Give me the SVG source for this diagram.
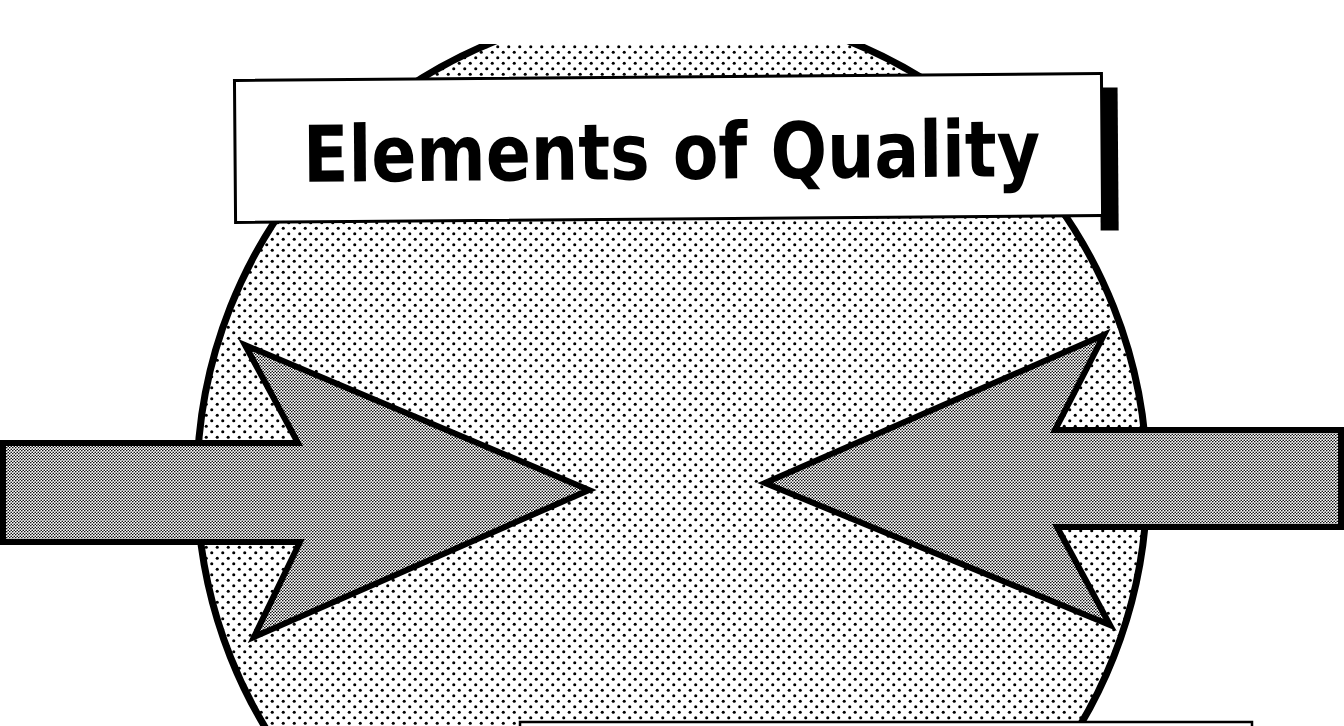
<svg xmlns="http://www.w3.org/2000/svg" width="1344" height="726" viewBox="0 0 1344 726">
  <defs>
    <pattern id="dots" width="11" height="11" patternUnits="userSpaceOnUse">
      <rect width="11" height="11" fill="#ffffff"/>
      <circle cx="2.75" cy="2.75" r="1.55" fill="#000"/>
      <circle cx="8.25" cy="8.25" r="1.55" fill="#000"/>
    </pattern>
    <pattern id="fine" width="3" height="3" patternUnits="userSpaceOnUse">
      <rect width="3" height="3" fill="#ffffff"/>
      <circle cx="0.75" cy="0.75" r="0.8" fill="#000"/>
      <circle cx="2.25" cy="2.25" r="0.8" fill="#000"/>
    </pattern>
    <clipPath id="topclip">
      <rect x="0" y="44" width="1344" height="700"/>
    </clipPath>
  </defs>
  <style>
    .arrow { fill: url(#fine); stroke: #000; stroke-width: 6; stroke-linejoin: miter; stroke-miterlimit: 10; }
    .title { font-family: "DejaVu Sans", "Liberation Sans", sans-serif; font-weight: bold; fill: #000; }
  </style>
  <rect width="1344" height="726" fill="#ffffff"/>

  <g id="circle" clip-path="url(#topclip)">
    <circle cx="672" cy="482" r="475" fill="url(#dots)" stroke="#000" stroke-width="7"/>
  </g>

  <g id="title" transform="rotate(-0.45 668 147)">
    <rect x="1100" y="91" width="18" height="143" fill="#000"/>
    <rect x="235" y="77" width="867" height="142" fill="#ffffff" stroke="#000" stroke-width="3"/>
    <text class="title" x="303" y="179" font-size="78" textLength="737" lengthAdjust="spacingAndGlyphs">Elements of Quality</text>
  </g>

  <g id="connectors">
    <polygon id="arrow-left" class="arrow" points="3,443 298,443 245,345 589,490 254,637 300,542 3,542"/>
    <polygon id="arrow-right" class="arrow" points="1341,430 1055,430 1104,335 765,483 1110,625 1057,527 1341,527"/>
  </g>

  <g id="bottom-box">
    <rect x="520" y="722" width="732" height="20" fill="#ffffff" stroke="#000" stroke-width="2.5"/>
  </g>
</svg>
